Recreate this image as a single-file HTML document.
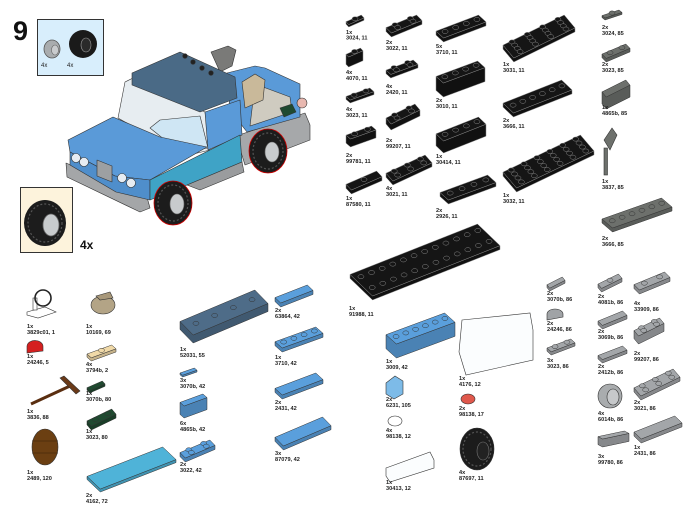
<!DOCTYPE html>
<html><head><meta charset="utf-8"><style>
html,body{margin:0;padding:0;background:#fff;width:700px;height:525px;overflow:hidden}
svg{display:block}
text{font-family:"Liberation Sans",sans-serif;font-weight:bold;font-size:5.6px;fill:#222}
</style></head><body>
<svg id="s" width="700" height="525" viewBox="0 0 700 525" xmlns="http://www.w3.org/2000/svg">
<text x="13" y="40" style="font-size:27px;fill:#111">9</text>
<rect x="37.5" y="19.5" width="66" height="56" fill="#d8eefc" stroke="#333" stroke-width="1"/>
<ellipse cx="52" cy="49" rx="8" ry="9" fill="#a9acae" stroke="#555" stroke-width="0.8"/>
<ellipse cx="55" cy="50" rx="3.5" ry="5" fill="#c9cbcd" stroke="#666" stroke-width="0.6"/>
<ellipse cx="83" cy="44" rx="14" ry="14" fill="#1a1a1a"/>
<ellipse cx="86" cy="45" rx="5" ry="7" fill="#2a2a2a" stroke="#999" stroke-width="0.6"/>
<text x="41" y="67" style="font-weight:normal;font-size:6px">4x</text>
<text x="67" y="67" style="font-weight:normal;font-size:6px">4x</text>
<rect x="20.5" y="187.5" width="52" height="65" fill="#fdf3dc" stroke="#333" stroke-width="1"/>
<ellipse cx="45" cy="223" rx="21" ry="23" fill="#1c1c1c"/>
<ellipse cx="45" cy="223" rx="17" ry="19" fill="none" stroke="#555" stroke-width="1.2" stroke-dasharray="2 2"/>
<ellipse cx="51" cy="225" rx="8" ry="11" fill="#c8cbcd" stroke="#666" stroke-width="0.8"/>
<text x="80" y="249" style="font-size:12px;fill:#111">4x</text>

<g stroke="#333" stroke-width="0.6" stroke-linejoin="round">
<polygon points="236,136 305,113 310,125 310,140 245,165" fill="#a6a8aa"/>
<polygon points="227,73 255,66 265,68 300,84 300,117 247,132 230,110" fill="#5a9ad8"/>
<polygon points="255,84 290,97 292,112 250,126" fill="#cfcbc0"/>
<polygon points="242,82 255,74 265,80 263,100 245,108" fill="#c9b99a"/>
<polygon points="211,52 228,46 236,50 232,66 220,72" fill="#7a7a78"/>
<polygon points="280,108 292,104 296,112 284,117" fill="#1f4a30"/>
<circle cx="302" cy="103" r="5" fill="#e8b8b0"/>
<polygon points="125,82 133,78 205,112 210,150 185,156 118,118" fill="#e7edf1"/>
<polygon points="160,120 200,116 208,148 180,152 150,128" fill="#cfe6f4"/>
<polygon points="205,112 240,100 242,135 208,150" fill="#5a9ad8"/>
<polygon points="132,73 180,52 235,77 237,98 200,112 132,85" fill="#4a6a86"/>
<circle cx="185" cy="56" r="2.3" fill="#222"/><circle cx="193" cy="62" r="2.3" fill="#222"/><circle cx="202" cy="68" r="2.3" fill="#222"/><circle cx="211" cy="73" r="2.3" fill="#222"/>
<polygon points="66,163 147,197 150,208 140,212 67,177" fill="#a4a6a8"/>
<polygon points="68,140 113,117 160,137 207,147 150,180 115,176 70,152" fill="#5a9ad8"/>
<polygon points="70,152 115,176 150,180 150,200 116,192 70,165" fill="#4f8ecb"/>
<polygon points="150,180 240,135 242,162 187,185 150,200" fill="#3fa3c6"/>
<polygon points="187,185 242,162 244,172 200,190" fill="#9a9c9e"/>
<circle cx="76" cy="158" r="4.5" fill="#e6ecf2"/><circle cx="84" cy="162" r="4.5" fill="#e6ecf2"/>
<circle cx="122" cy="178" r="4.5" fill="#e6ecf2"/><circle cx="131" cy="183" r="4.5" fill="#e6ecf2"/>
<polygon points="97,160 112,166 112,182 97,176" fill="#9da0a2"/>
</g>
<ellipse cx="173" cy="203" rx="19" ry="22" fill="#1c1c1c" stroke="#c00" stroke-width="0.8"/>
<ellipse cx="173" cy="203" rx="15" ry="18" fill="none" stroke="#555" stroke-width="1.2" stroke-dasharray="2 2"/>
<ellipse cx="177" cy="204" rx="7" ry="10" fill="#c8cbcd" stroke="#666" stroke-width="0.6"/>
<ellipse cx="268" cy="151" rx="19" ry="22" fill="#1c1c1c" stroke="#c00" stroke-width="0.8"/>
<ellipse cx="268" cy="151" rx="15" ry="18" fill="none" stroke="#555" stroke-width="1.2" stroke-dasharray="2 2"/>
<ellipse cx="272" cy="152" rx="7" ry="10" fill="#c8cbcd" stroke="#666" stroke-width="0.6"/>

<g id="parts"></g>

<g stroke="#333" stroke-width="0.6">
<polygon points="27,312 45,307 56,312 38,318 27,315" fill="#fff"/>
<rect x="33" y="298" width="4" height="12" fill="#fff"/>
<circle cx="43" cy="298" r="8" fill="none" stroke="#222" stroke-width="1.6"/>
<path d="M27,353 L27,346 A8,6 0 0 1 43,347 L43,351 Z" fill="#d42020"/>
<line x1="31" y1="404" x2="70" y2="386" stroke="#5a2e10" stroke-width="3"/>
<polygon points="60,378 64,376 80,391 76,394" fill="#6b3a18"/>
<ellipse cx="45" cy="447" rx="13" ry="18" fill="#6b3f12"/>
<line x1="32" y1="441" x2="58" y2="441" stroke="#3a2006"/><line x1="32" y1="453" x2="58" y2="453" stroke="#3a2006"/>
<ellipse cx="103" cy="305" rx="12" ry="9" fill="#b3a486"/><polygon points="96,296 110,292 113,298 100,300" fill="#a8987a"/>
<polygon points="462,320 530,313 533,330 533,360 466,375 459,352" fill="#fbfdfe"/>
<polygon points="386,468 430,452 434,460 434,468 390,482 386,476" fill="#fbfdfe"/>
<ellipse cx="477" cy="449" rx="17" ry="21" fill="#1c1c1c"/>
<ellipse cx="477" cy="449" rx="14" ry="17" fill="none" stroke="#555" stroke-width="1.2" stroke-dasharray="2 2"/>
<ellipse cx="483" cy="451" rx="6" ry="9" fill="#222" stroke="#777"/>
<ellipse cx="468" cy="399" rx="7" ry="5" fill="#e0584c"/>
<ellipse cx="395" cy="421" rx="7" ry="5" fill="#fff"/>
<polygon points="386,383 395,376 403,381 403,394 394,399 386,394" fill="#7dbbe8"/>
<ellipse cx="610" cy="396" rx="12" ry="12" fill="#a9acae"/>
<ellipse cx="613" cy="397" rx="6" ry="8" fill="#c6c8ca"/>
<polygon points="604,140 612,128 617,135 610,150" fill="#6d706c"/><rect x="604" y="148" width="3.5" height="27" fill="#6d706c"/>
<path d="M547,320 L547,314 A8,5 0 0 1 563,314 L563,317 Z" fill="#a0a3a6"/>
</g>

<g>
<text x="346" y="34">1x</text><text x="346" y="39.5">3024, 11</text>
<text x="346" y="74">4x</text><text x="346" y="80">4070, 11</text>
<text x="346" y="111">4x</text><text x="346" y="117">3023, 11</text>
<text x="346" y="157">2x</text><text x="346" y="163">99781, 11</text>
<text x="346" y="200">1x</text><text x="346" y="206">87580, 11</text>
<text x="386" y="44">2x</text><text x="386" y="50">3022, 11</text>
<text x="386" y="88">4x</text><text x="386" y="94">2420, 11</text>
<text x="386" y="142">2x</text><text x="386" y="148">99207, 11</text>
<text x="386" y="190">4x</text><text x="386" y="196">3021, 11</text>
<text x="436" y="48">5x</text><text x="436" y="54">3710, 11</text>
<text x="436" y="102">2x</text><text x="436" y="108">3010, 11</text>
<text x="436" y="158">1x</text><text x="436" y="164">30414, 11</text>
<text x="436" y="212">2x</text><text x="436" y="218">2926, 11</text>
<text x="503" y="66">1x</text><text x="503" y="72">3031, 11</text>
<text x="503" y="122">2x</text><text x="503" y="128">3666, 11</text>
<text x="503" y="197">1x</text><text x="503" y="203">3032, 11</text>
<text x="602" y="29">2x</text><text x="602" y="35">3024, 85</text>
<text x="602" y="66">2x</text><text x="602" y="72">3023, 85</text>
<text x="602" y="109">1x</text><text x="602" y="115">4865b, 85</text>
<text x="602" y="183">1x</text><text x="602" y="189">3837, 85</text>
<text x="602" y="240">2x</text><text x="602" y="246">3666, 85</text>
<text x="349" y="310">1x</text><text x="349" y="316">91988, 11</text>
<text x="27" y="328">1x</text><text x="27" y="334">3829c01, 1</text>
<text x="27" y="358">1x</text><text x="27" y="364">24246, 5</text>
<text x="27" y="413">1x</text><text x="27" y="419">3836, 88</text>
<text x="27" y="474">1x</text><text x="27" y="480">2489, 120</text>
<text x="86" y="328">1x</text><text x="86" y="334">10169, 69</text>
<text x="86" y="366">4x</text><text x="86" y="372">3794b, 2</text>
<text x="86" y="395">1x</text><text x="86" y="401">3070b, 80</text>
<text x="86" y="433">1x</text><text x="86" y="439">3023, 80</text>
<text x="86" y="497">2x</text><text x="86" y="503">4162, 72</text>
<text x="180" y="351">1x</text><text x="180" y="357">52031, 55</text>
<text x="180" y="382">3x</text><text x="180" y="388">3070b, 42</text>
<text x="180" y="425">6x</text><text x="180" y="431">4865b, 42</text>
<text x="180" y="466">2x</text><text x="180" y="472">3022, 42</text>
<text x="275" y="312">2x</text><text x="275" y="318">63864, 42</text>
<text x="275" y="359">1x</text><text x="275" y="365">3710, 42</text>
<text x="275" y="404">2x</text><text x="275" y="410">2431, 42</text>
<text x="275" y="455">3x</text><text x="275" y="461">87079, 42</text>
<text x="386" y="363">1x</text><text x="386" y="369">3009, 42</text>
<text x="386" y="401">2x</text><text x="386" y="407">6231, 105</text>
<text x="386" y="432">4x</text><text x="386" y="438">98138, 12</text>
<text x="386" y="484">1x</text><text x="386" y="490">30413, 12</text>
<text x="459" y="380">1x</text><text x="459" y="386">4176, 12</text>
<text x="459" y="410">2x</text><text x="459" y="416">98138, 17</text>
<text x="459" y="474">4x</text><text x="459" y="480">87697, 11</text>
<text x="547" y="295">2x</text><text x="547" y="301">3070b, 86</text>
<text x="547" y="325">2x</text><text x="547" y="331">24246, 86</text>
<text x="547" y="362">3x</text><text x="547" y="368">3023, 86</text>
<text x="598" y="298">2x</text><text x="598" y="304">4081b, 86</text>
<text x="598" y="333">2x</text><text x="598" y="339">3069b, 86</text>
<text x="598" y="368">2x</text><text x="598" y="374">2412b, 86</text>
<text x="598" y="415">4x</text><text x="598" y="421">6014b, 86</text>
<text x="598" y="458">3x</text><text x="598" y="464">99780, 86</text>
<text x="634" y="305">4x</text><text x="634" y="311">33909, 86</text>
<text x="634" y="355">2x</text><text x="634" y="361">99207, 86</text>
<text x="634" y="404">2x</text><text x="634" y="410">3021, 86</text>
<text x="634" y="449">1x</text><text x="634" y="455">2431, 86</text>
</g>
</svg>
<script>
var NS="http://www.w3.org/2000/svg",g=document.getElementById("parts");
function el(t,a){var e=document.createElementNS(NS,t);for(var k in a)e.setAttribute(k,a[k]);g.appendChild(e);return e;}
function sh(c,f){var r=parseInt(c.substr(1,2),16),gg=parseInt(c.substr(3,2),16),b=parseInt(c.substr(5,2),16);
return "rgb("+Math.round(r*f)+","+Math.round(gg*f)+","+Math.round(b*f)+")";}
function iso(x1,y1,x2,y2,c,cols,rows,th){
 var W=x2-x1,H=y2-y1;th=th||Math.min(4,H*0.2);var h=H-th;
 var P1=[x1,y1+0.7*h],P2=[x2-0.15*W,y1],P3=[x2,y1+0.3*h],P4=[x1+0.15*W,y1+h];
 var st=c=="#151515"?"#888":"#333";
 function p(a){return a.map(function(q){return q[0].toFixed(1)+","+q[1].toFixed(1)}).join(" ");}
 el("polygon",{points:p([P1,P4,P3,[P3[0],P3[1]+th],[P4[0],P4[1]+th],[P1[0],P1[1]+th]]),fill:sh(c,0.82),stroke:st,"stroke-width":0.5});
 el("polygon",{points:p([P1,P2,P3,P4]),fill:c,stroke:st,"stroke-width":0.5});
 if(cols){var dx=(P2[0]-P1[0]),dy=(P2[1]-P1[1]),ex=(P4[0]-P1[0]),ey=(P4[1]-P1[1]);
  var r=Math.min(3,Math.hypot(dx,dy)/cols*0.3);
  for(var i=0;i<cols;i++)for(var j=0;j<rows;j++){var u=(i+0.5)/cols,v=(j+0.5)/rows;
   el("ellipse",{cx:P1[0]+u*dx+v*ex,cy:P1[1]+u*dy+v*ey-1,rx:r,ry:r*0.7,fill:c,stroke:st,"stroke-width":0.5});}}
}
var K="#151515",B="#5a9fdc",G="#a3a6a9",D="#6d706c";
iso(346,15,364,27,K,1,1);iso(346,48,363,67,K,1,1,10);iso(346,88,374,103,K,2,1);iso(346,126,376,147,K,2,1,8);iso(346,171,382,194,K,1,1);
iso(386,15,422,37,K,2,2);iso(386,60,418,78,K,2,2);iso(386,104,420,130,K,2,2,6);iso(386,155,432,185,K,3,2);
iso(436,15,486,42,K,4,1);iso(436,61,485,97,K,4,1,14);iso(436,117,486,153,K,4,1,12);iso(440,175,496,204,K,4,1);
iso(503,15,575,62,K,4,4);iso(503,80,572,117,K,6,1);iso(503,135,594,192,K,6,4);
iso(602,10,622,20,D,1,1);iso(602,44,630,62,D,2,1);iso(602,80,630,109,D,0,0,12);iso(602,198,672,232,D,6,1);
iso(350,224,500,300,K,12,2);
iso(180,290,268,343,"#4e6c88",4,1,8);
iso(87,345,116,361,"#f0d9a8",1,1);iso(87,381,105,393,"#1f4a30",0,0);iso(87,409,116,430,"#1f4a30",2,1);
iso(87,447,176,492,"#4fb3d8",0,0,3);
iso(180,368,197,377,B,0,0);iso(180,394,207,418,B,0,0,12);iso(180,440,215,462,B,2,2);
iso(275,285,313,307,B,0,0);iso(275,327,323,352,B,4,1);iso(275,373,323,399,B,0,0);iso(275,417,331,450,B,0,0);
iso(386,313,455,358,B,6,1,14);
iso(547,277,565,291,G,0,0);iso(547,339,575,355,G,2,1);
iso(598,274,622,292,G,1,1);iso(598,311,627,329,G,0,0);iso(598,346,627,363,G,0,0);iso(598,431,629,447,G,0,0,8);
iso(634,272,670,294,G,2,1);iso(634,318,664,344,G,2,2,8);iso(634,369,680,400,G,3,2);iso(634,416,682,443,G,0,0);
</script>
</body></html>
